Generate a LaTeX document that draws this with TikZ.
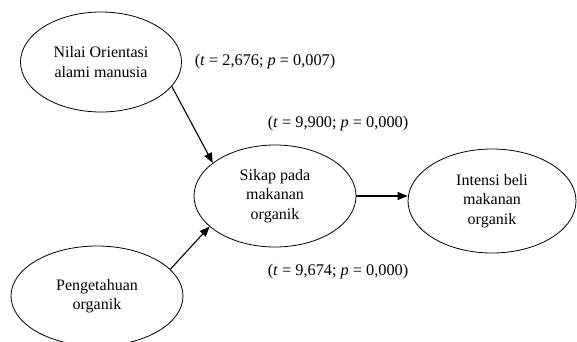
\documentclass[tikz,border=0pt]{standalone}
\usepackage{fontspec}
\setmainfont{Liberation Serif}
\usetikzlibrary{arrows.meta, positioning, shapes.geometric}

\tikzset{
  construct/.style={ellipse, draw, line width=0.8pt, inner sep=0pt,
    align=center, font=\fontsize{16}{19.5}\selectfont},
  coef/.style={font=\fontsize{16.3}{18}\selectfont},
  path/.style={-{Triangle[length=10pt, width=8pt]}, line width=1.1pt},
}

\begin{document}
\begin{tikzpicture}[x=1pt, y=-1pt]

  % Canvas
  \useasboundingbox (0,0) rectangle (577,341);
  \clip (0,0) rectangle (577,341);

  % === Constructs ===
  \node[construct, minimum width=161pt, minimum height=100pt] (orient) at (101,62)
    {Nilai Orientasi\\alami manusia};
  \node[construct, minimum width=162pt, minimum height=102pt] (sikap) at (275,196)
    {Sikap pada\\makanan\\organik};
  \node[construct, minimum width=168pt, minimum height=104pt] (intensi) at (492,201)
    {Intensi beli\\makanan\\organik};
  \node[construct, minimum width=172pt, minimum height=100pt] (tahu) at (97,296)
    {Pengetahuan\\organik};

  % === Paths ===
  \draw[path] (orient.-19) -- (sikap.152);
  \draw[path] (tahu.20) -- (sikap.205);
  \draw[path] (sikap.east) -- (sikap.east -| intensi.west);

  % Path coefficients
  \node[coef] (c1) at (265,62) {(\textit{t} = 2,676; \textit{p} = 0,007)};
  \node[coef] (c2) at (338,124) {(\textit{t} = 9,900; \textit{p} = 0,000)};
  \node[coef] (c3) at (338,272) {(\textit{t} = 9,674; \textit{p} = 0,000)};

\end{tikzpicture}
\end{document}
